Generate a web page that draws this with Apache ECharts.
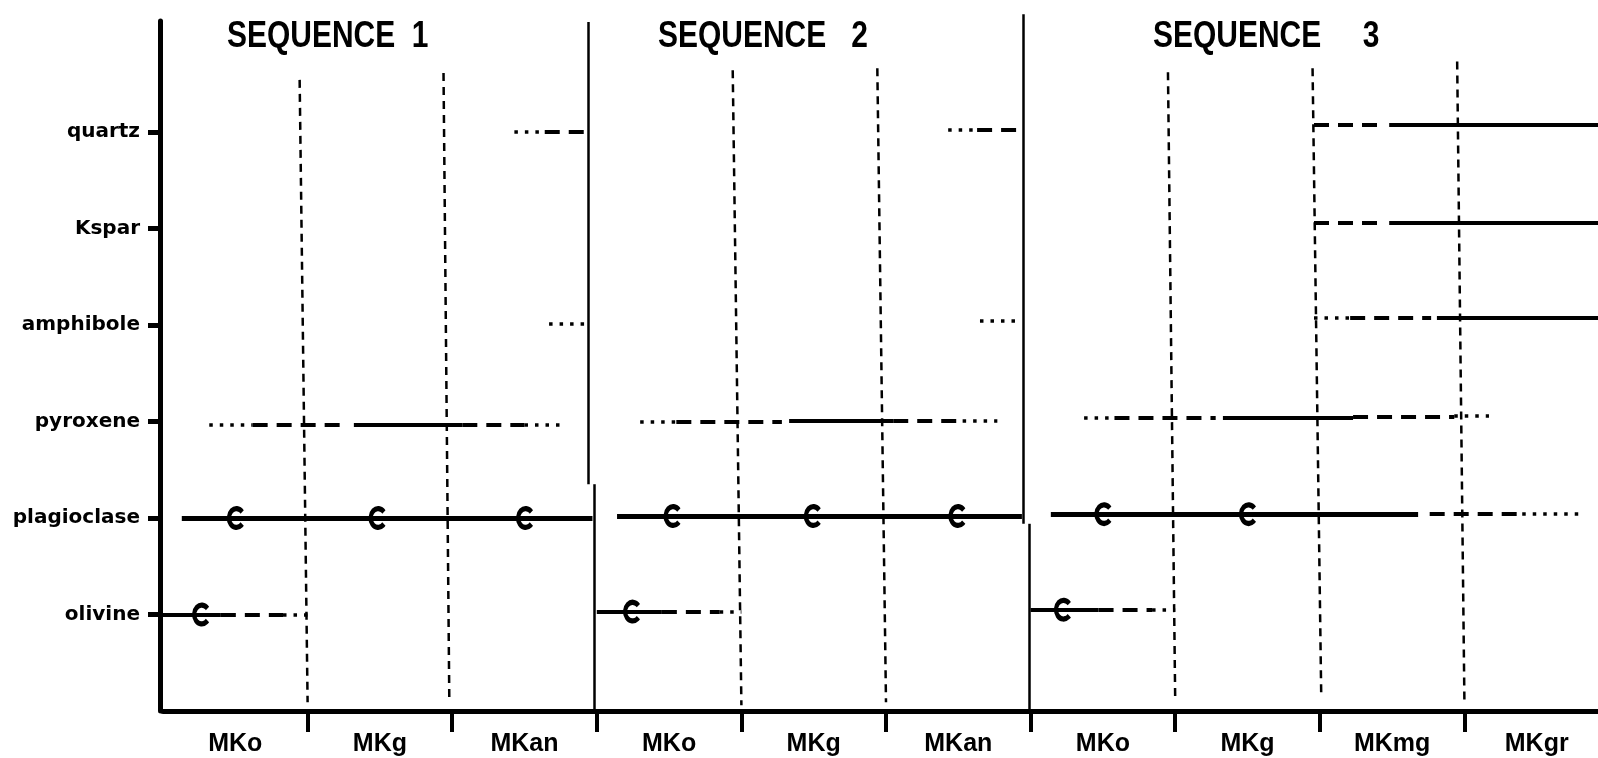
<!DOCTYPE html>
<html>
<head>
<meta charset="utf-8">
<title>Crystallization sequences</title>
<script src="https://cdn.jsdelivr.net/npm/echarts@6/dist/echarts.min.js"></script>
<style>
  html, body { margin: 0; padding: 0; background: #fff; }
  #chart { width: 1598px; height: 758px; }
</style>
</head>
<body>
<div id="chart"></div>
<script>
// rows bottom to top, row 1 = olivine
const minerals = ['olivine', 'plagioclase', 'pyroxene', 'amphibole', 'Kspar', 'quartz'];
const rows = [1, 2, 3, 4, 5, 6];

// stages along the bottom, one unit wide each
const stages = ['MKo', 'MKg', 'MKan', 'MKo', 'MKg', 'MKan', 'MKo', 'MKg', 'MKmg', 'MKgr'];
const stageTicks = [1, 2, 3, 4, 5, 6, 7, 8, 9];
const sequences = ['SEQUENCE  1', 'SEQUENCE   2', 'SEQUENCE     3'];

// [from, to, row as read (the scan is a bit tilted), style]
const quartz = [
  [2.43, 2.64, 6.00, 'dotted'], [2.64, 2.94, 6.00, 'dashed'],
  [5.43, 5.63, 6.02, 'dotted'], [5.63, 5.94, 6.02, 'dashed'],
  [7.96, 8.43, 6.07, 'dashed'], [8.48, 10, 6.07, 'solid']
];
const kspar = [
  [7.96, 8.43, 5.06, 'dashed'], [8.48, 10, 5.06, 'solid']
];
const amphibole = [
  [2.67, 2.93, 4.01, 'dotted'],
  [5.65, 5.94, 4.04, 'dotted'],
  [7.96, 8.21, 4.07, 'dotted'], [8.21, 8.77, 4.07, 'dashed'], [8.81, 10, 4.07, 'solid']
];
const pyroxene = [
  [0.32, 0.62, 2.97, 'dotted'], [0.62, 1.27, 2.97, 'dashed'], [1.32, 2.07, 2.97, 'solid'],
  [2.07, 2.50, 2.97, 'dashed'], [2.50, 2.79, 2.97, 'dotted'],
  [3.30, 3.55, 3.00, 'dotted'], [3.55, 4.28, 3.00, 'dashed'], [4.33, 5.05, 3.01, 'solid'],
  [5.05, 5.53, 3.01, 'dashed'], [5.53, 5.77, 3.01, 'dotted'],
  [6.37, 6.58, 3.04, 'dotted'], [6.58, 7.28, 3.04, 'dashed'], [7.33, 8.23, 3.04, 'solid'],
  [8.23, 8.93, 3.05, 'dashed'], [8.93, 9.17, 3.06, 'dotted']
];
const plagioclase = [
  [0.13, 2.97, 2.00, 'solid'],
  [3.14, 5.94, 2.02, 'solid'],
  [6.14, 8.68, 2.04, 'solid'], [8.76, 9.40, 2.04, 'dashed'], [9.40, 9.83, 2.04, 'dotted']
];
const olivine = [
  [0.00, 0.40, 1.00, 'solid'], [0.40, 0.83, 1.00, 'dashed'], [0.83, 1.01, 1.00, 'dotted'],
  [3.00, 3.45, 1.03, 'solid'], [3.45, 3.85, 1.03, 'dashed'], [3.85, 4.00, 1.03, 'dotted'],
  [6.00, 6.47, 1.05, 'solid'], [6.47, 6.84, 1.05, 'dashed'], [6.84, 7.00, 1.05, 'dotted']
];

// "C" marks on the bars: [x, row]
const cMarks = [
  [0.50, 2.00], [1.48, 2.00], [2.50, 2.00], [0.26, 1.00],
  [3.52, 2.02], [4.49, 2.02], [5.49, 2.02], [3.24, 1.03],
  [6.50, 2.04], [7.50, 2.04], [6.22, 1.05]
];

// stage dividers (dashed): [xTop, yTop, xBottom, yBottom]
const dividers = [
  [0.945, 6.54, 1.00, 0.09], [1.94, 6.61, 1.98, 0.12],
  [3.94, 6.64, 4.00, 0.06], [4.94, 6.66, 5.00, 0.09],
  [6.95, 6.62, 7.00, 0.12], [7.95, 6.66, 8.01, 0.15], [8.95, 6.73, 9.00, 0.12]
];
// sequence separators (solid), drawn in two offset pieces each
const separators = [
  [2.94, 7.14, 2.94, 2.35], [2.98, 2.35, 2.98, 0],
  [5.95, 7.22, 5.95, 1.94], [5.99, 1.94, 5.99, 0]
];

const dashType = { solid: 'solid', dashed: [15, 9], dotted: [3.5, 7] };
const dashWidth = { solid: 4, dashed: 4, dotted: 3.5 };

function bar(s, w) {
  return {
    coords: [[s[0], s[2]], [s[1], s[2]]],
    lineStyle: { type: dashType[s[3]], width: s[3] === 'solid' && w ? w : dashWidth[s[3]] }
  };
}

const barData = []
  .concat(quartz.map(s => bar(s)))
  .concat(kspar.map(s => bar(s)))
  .concat(amphibole.map(s => bar(s)))
  .concat(pyroxene.map(s => bar(s)))
  .concat(plagioclase.map(s => bar(s, 5)))
  .concat(olivine.map(s => bar(s)));

const dividerData = dividers.map(d => ({
  coords: [[d[0], d[1]], [d[2], d[3]]],
  lineStyle: { type: [8, 6], width: 2.5 }
}));
const separatorData = separators.map(d => ({
  coords: [[d[0], d[1]], [d[2], d[3]]],
  lineStyle: { type: 'solid', width: 2.5 }
}));

// stage names sit in the middle of each stage
const stageCenters = stages.map((s, i) => i + 0.5);

// open C ring
const cPath = 'path://M88.3 17.9 A50 50 0 1 0 88.3 82.1 L71.4 68 A28 28 0 1 1 71.4 32 Z';

const titleLeft = [227, 658, 1153];

const chart = echarts.init(document.getElementById('chart'));
chart.setOption({
  backgroundColor: '#fff',
  animation: false,
  // titles squeezed a little to match the narrow lettering
  graphic: sequences.map((t, i) => ({
    type: 'text',
    x: titleLeft[i],
    y: 18,
    scaleX: 0.81,
    silent: true,
    style: {
      text: t,
      fontFamily: '"Liberation Sans", sans-serif',
      fontWeight: 'bold',
      fontSize: 37,
      fill: '#000',
      verticalAlign: 'top'
    }
  })),
  // last stage runs off the right edge of the page
  grid: { left: 163, right: 0, top: 21, bottom: 47, containLabel: false },
  xAxis: {
    type: 'value',
    min: 0,
    max: 9.924,
    axisLine: { show: true, onZero: false, lineStyle: { color: '#000', width: 5 } },
    axisTick: { show: true, customValues: stageTicks, length: 21, lineStyle: { color: '#000', width: 4 } },
    axisLabel: {
      customValues: stageCenters,
      formatter: v => stages[Math.floor(v)] || '',
      margin: 21,
      fontFamily: '"Liberation Sans", sans-serif',
      fontWeight: 'bold',
      fontSize: 25,
      color: '#000'
    },
    splitLine: { show: false }
  },
  yAxis: {
    type: 'value',
    min: 0,
    max: 7.15,
    offset: 3,
    axisLine: { show: true, onZero: false, lineStyle: { color: '#000', width: 5 } },
    axisTick: { show: true, customValues: rows, length: 12, lineStyle: { color: '#000', width: 5 } },
    axisLabel: {
      customValues: rows,
      formatter: v => minerals[Math.round(v) - 1] || '',
      margin: 20,
      fontFamily: '"DejaVu Sans", sans-serif',
      fontWeight: 'bold',
      fontSize: 20,
      color: '#000'
    },
    splitLine: { show: false }
  },
  series: [
    {
      type: 'lines',
      coordinateSystem: 'cartesian2d',
      clip: false,
      silent: true,
      lineStyle: { color: '#000', opacity: 1, curveness: 0 },
      data: dividerData.concat(separatorData)
    },
    {
      type: 'lines',
      coordinateSystem: 'cartesian2d',
      clip: false,
      silent: true,
      z: 3,
      lineStyle: { color: '#000', opacity: 1, curveness: 0 },
      data: barData
    },
    {
      type: 'scatter',
      silent: true,
      z: 4,
      symbol: cPath,
      symbolSize: [17, 24],
      itemStyle: { color: '#000', opacity: 1 },
      data: cMarks
    }
  ]
});
</script>
</body>
</html>
